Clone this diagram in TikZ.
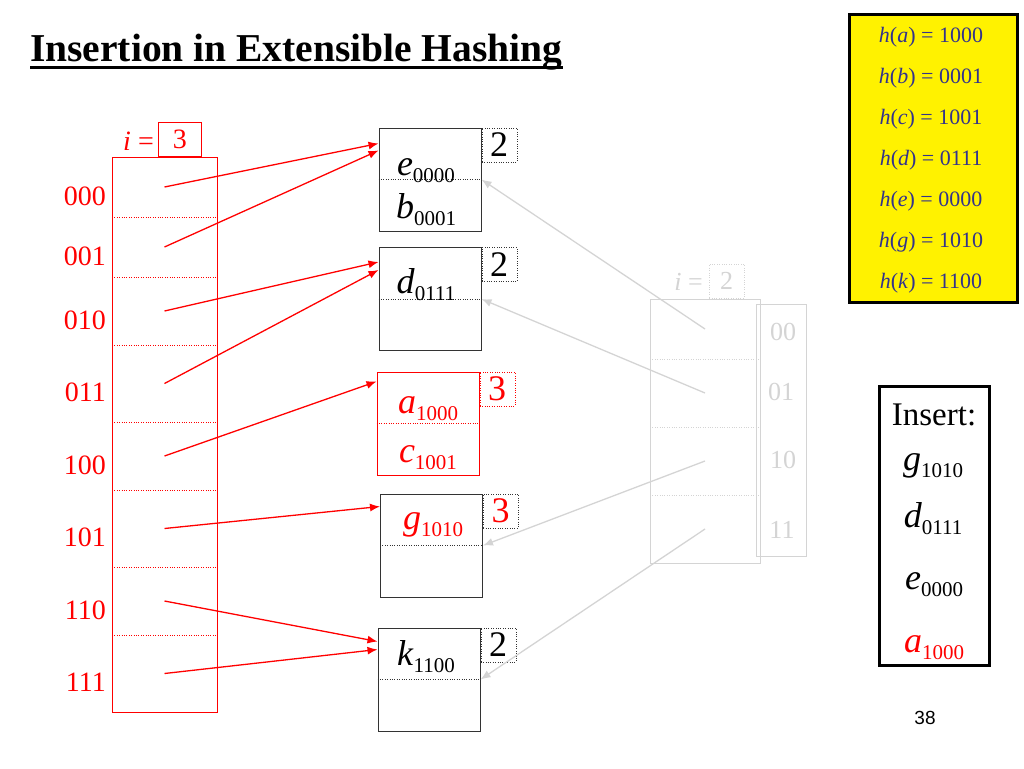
\documentclass[tikz,border=0pt]{standalone}
\usepackage{fontspec}
\setmainfont{Liberation Serif}
\setsansfont{Liberation Sans}
\usetikzlibrary{positioning,arrows.meta}

\definecolor{hashblue}{RGB}{51,51,140}
\definecolor{oldgray}{RGB}{212,212,212}

% key with its hash value as a lowered index
\newcommand{\hkey}[2]{\textit{#1}\raisebox{-7pt}{\fontsize{21}{21}\selectfont #2}}

\begin{document}
\begin{tikzpicture}[x=1pt, y=-1pt,
  bucket/.style={draw=black!80, line width=1pt, minimum width=102pt, minimum height=103pt, inner sep=0pt},
  depth/.style={draw=black!80, dotted, minimum width=35pt, minimum height=34pt, inner sep=0pt, anchor=north west, font=\fontsize{36}{36}\selectfont},
  keytext/.style={anchor=base, inner sep=0pt, font=\fontsize{36}{36}\selectfont},
  cell/.style={minimum width=105pt, inner sep=0pt, outer sep=0pt},
  oldcell/.style={minimum width=110pt, inner sep=0pt, outer sep=0pt},
  dirlab/.style={text=red, inner sep=0pt, font=\fontsize{28}{28}\selectfont},
  oldlab/.style={text=oldgray, inner sep=0pt, font=\fontsize{26}{26}\selectfont},
  redarrow/.style={red, line width=1.3pt, -{Latex[length=10pt, width=8pt]}},
  grayarrow/.style={oldgray, line width=1.3pt, -{Latex[length=10pt, width=8pt]}},
  hashtext/.style={text=hashblue, inner sep=0pt, font=\fontsize{22}{22}\selectfont}]

\useasboundingbox (0,0) rectangle (1024,768);

% title
\node[anchor=base west, inner sep=0pt, font=\fontsize{39.5}{40}\selectfont\bfseries] (title) at (30,62) {Insertion in Extensible Hashing};
\draw[line width=2.5pt] ([yshift=-5.5pt]title.base west) -- ([yshift=-5.5pt]title.base east);

% directory, global depth 3
\foreach \lab/\ya/\yb [count=\k from 0] in {000/157/217, 001/217/277, 010/277/345, 011/345/422, 100/422/490, 101/490/567, 110/567/635, 111/635/712}
{
  \node[cell, minimum height={(\yb-\ya)*1pt}] (c\k) at (164.5, {(\ya+\yb)/2}) {};
  \node[dirlab, anchor=east] at (106, {(\ya+\yb)/2+9}) {\lab};
}
\foreach \k in {0,...,6}
  \draw[red, dotted] (c\k.south west) -- (c\k.south east);
\draw[red, line width=1pt] (c0.north west) rectangle (c7.south east);
\node[dirlab, anchor=east] (ieq) at (154,141) {\textit{i} =};
\node[dirlab, draw=red, line width=0.8pt, minimum width=43pt, minimum height=34pt, anchor=south west] (ibox) at (158,157) {3};

% buckets
\node[bucket] (b1) at (430,179.5) {};
\draw[black!80, dotted] (b1.west) -- (b1.east);
\node[depth] (l1) at (b1.north east) {2};
\node[keytext] (e1) at (426,175) {\hkey{e}{0000}};
\node[keytext] (e2) at (426,218) {\hkey{b}{0001}};

\node[bucket] (b2) at (430,299) {};
\draw[black!80, dotted] (b2.west) -- (b2.east);
\node[depth] (l2) at (b2.north east) {2};
\node[keytext] (e3) at (426,293) {\hkey{d}{0111}};

\node[bucket, draw=red] (b3) at (428,423.5) {};
\draw[red, dotted] (b3.west) -- (b3.east);
\node[depth, draw=red, text=red] (l3) at (b3.north east) {3};
\node[keytext, text=red] (e4) at (428,413) {\hkey{a}{1000}};
\node[keytext, text=red] (e5) at (428,462) {\hkey{c}{1001}};

\node[bucket] (b4) at (431.5,545.5) {};
\draw[black!80, dotted] (b4.west) -- (b4.east);
\node[depth, text=red] (l4) at (b4.north east) {3};
\node[keytext, text=red] (e6) at (433,529) {\hkey{g}{1010}};

\node[bucket] (b5) at (429,679.5) {};
\draw[black!80, dotted] (b5.west) -- (b5.east);
\node[depth] (l5) at (b5.north east) {2};
\node[keytext] (e7) at (426,665) {\hkey{k}{1100}};

% new pointers
\draw[redarrow] (c0.center) -- ([yshift=-16pt]b1.north west);
\draw[redarrow] (c1.center) -- ([yshift=-23pt]b1.north west);
\draw[redarrow] (c2.center) -- ([yshift=-15pt]b2.north west);
\draw[redarrow] (c3.center) -- ([yshift=-23pt]b2.north west);
\draw[redarrow] (c4.center) -- ([yshift=-10pt]b3.north west);
\draw[redarrow] (c5.center) -- ([yshift=-13pt]b4.north west);
\draw[redarrow] (c6.center) -- ([yshift=-14pt]b5.north west);
\draw[redarrow] (c7.center) -- ([yshift=-22pt]b5.north west);

% old directory, global depth 2
\foreach \ya/\yb [count=\k from 0] in {299/359, 359/427, 427/495, 495/563}
  \node[oldcell, minimum height={(\yb-\ya)*1pt}] (o\k) at (705, {(\ya+\yb)/2}) {};
\foreach \k in {0,1,2}
  \draw[oldgray, dotted] (o\k.south west) -- (o\k.south east);
\draw[oldgray, line width=1pt] (o0.north west) rectangle (o3.south east);
\node[draw=oldgray, line width=1pt, minimum width=50pt, minimum height=252pt, inner sep=0pt] (ocol) at (781,430) {};
\node[oldlab] at (783,332) {00};
\node[oldlab] at (781,392) {01};
\node[oldlab] at (783,460) {10};
\node[oldlab] at (782,530) {11};
\node[oldlab, anchor=east] (oeq) at (703,282) {\textit{i} =};
\node[oldlab, draw=oldgray, dotted, minimum width=35pt, minimum height=34pt, anchor=south west] (obox) at (709,298) {2};

\draw[grayarrow] (o0.center) -- (b1.east);
\draw[grayarrow] (o1.center) -- (b2.east);
\draw[grayarrow] (o2.center) -- (b4.east);
\draw[grayarrow] (o3.center) -- (b5.east);

% hash values
\node[draw, line width=3pt, fill=yellow, minimum width=168pt, minimum height=287pt] (hbox) at (933,158.5) {};
\foreach \v/\code [count=\k from 0] in {a/1000, b/0001, c/1001, d/0111, e/0000, g/1010, k/1100}
  \node[hashtext] (h\k) at (931, {37+41*\k}) {\textit{h}(\textit{\v}) = \code};

% keys to insert
\node[draw, line width=3pt, minimum width=110pt, minimum height=279pt] (ins) at (934,525.5) {};
\node[keytext, font=\fontsize{33}{33}\selectfont] (t0) at (934,425) {Insert:};
\node[keytext] (t1) at (933,470) {\hkey{g}{1010}};
\node[keytext] (t2) at (933,527) {\hkey{d}{0111}};
\node[keytext] (t3) at (934,589) {\hkey{e}{0000}};
\node[keytext, text=red] (t4) at (934,652) {\hkey{a}{1000}};

\node[font=\sffamily\fontsize{19}{19}\selectfont] (pg) at (925,718) {38};

\end{tikzpicture}
\end{document}
